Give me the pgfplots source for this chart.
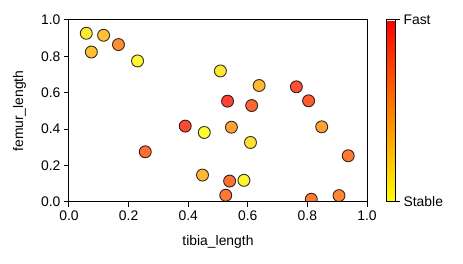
\documentclass[border=0pt]{standalone}
\usepackage{pgfplots}
\pgfplotsset{compat=1.18}
\usepackage{fontspec}
\setmainfont{Liberation Sans}
\pgfplotstableread{
x y c
0.058 0.927 0.10
0.116 0.916 0.30
0.166 0.865 0.55
0.075 0.824 0.30
0.230 0.775 0.05
0.508 0.720 0.12
0.638 0.640 0.35
0.763 0.633 0.85
0.532 0.554 0.92
0.804 0.556 0.80
0.613 0.530 0.75
0.390 0.417 0.88
0.454 0.382 0.02
0.545 0.411 0.45
0.848 0.413 0.45
0.609 0.327 0.15
0.256 0.276 0.70
0.937 0.254 0.65
0.448 0.148 0.35
0.539 0.115 0.70
0.587 0.119 0.05
0.526 0.037 0.65
0.813 0.015 0.65
0.906 0.035 0.60
}\pts
\begin{document}
\begin{tikzpicture}
\begin{axis}[
  name=ax,
  scale only axis,
  width=298pt, height=182pt,
  xmin=0, xmax=1, ymin=0, ymax=1,
  xtick={0,0.2,0.4,0.6,0.8,1.0},
  ytick={0,0.2,0.4,0.6,0.8,1.0},
  xtick pos=bottom, ytick pos=left,
  tick align=outside,
  major tick length=5pt,
  tick style={black, line width=1pt},
  axis line style={line width=1pt},
  axis on top=true,
  clip marker paths=true,
  font=\fontsize{13.9}{16}\selectfont,
  /pgf/number format/assume math mode=true,
  /pgf/number format/.cd, fixed, fixed zerofill, precision=1, /pgfplots/.cd,
  xlabel={tibia\_length},
  ylabel={femur\_length},
  xlabel style={at={(axis description cs:0.5,-0.2198)}, anchor=center},
  ylabel style={at={(axis description cs:-0.1661,0.5)}, anchor=center},
  colormap={autumnr}{rgb=(1,1,0) rgb=(1,0,0)},
  point meta min=0, point meta max=1,
  colorbar,
  colorbar style={
    at={(parent axis.north east)}, anchor=north west, xshift=11pt,
    scale only axis,
    width=8.5pt, height=182pt,
    ytick={0,1}, yticklabels={Stable,Fast},
    ytick pos=right, yticklabel pos=right,
    tick align=outside, major tick length=5pt,
    tick style={black, line width=1pt},
    axis line style={line width=1pt},
    font=\fontsize{13.9}{16}\selectfont,
  },
]
\addplot[scatter, only marks, mark=*, mark size=6pt, point meta=explicit,
  scatter/use mapped color={draw=black, fill=mapped color, line width=0.9pt},
  fill opacity=0.8, draw opacity=0.8]
  table[x=x, y=y, meta=c]{\pts};
\end{axis}
\path ([shift={(-69pt,-62pt)}]ax.south west) rectangle ([shift={(96pt,20pt)}]ax.north east);
\end{tikzpicture}
\end{document}
